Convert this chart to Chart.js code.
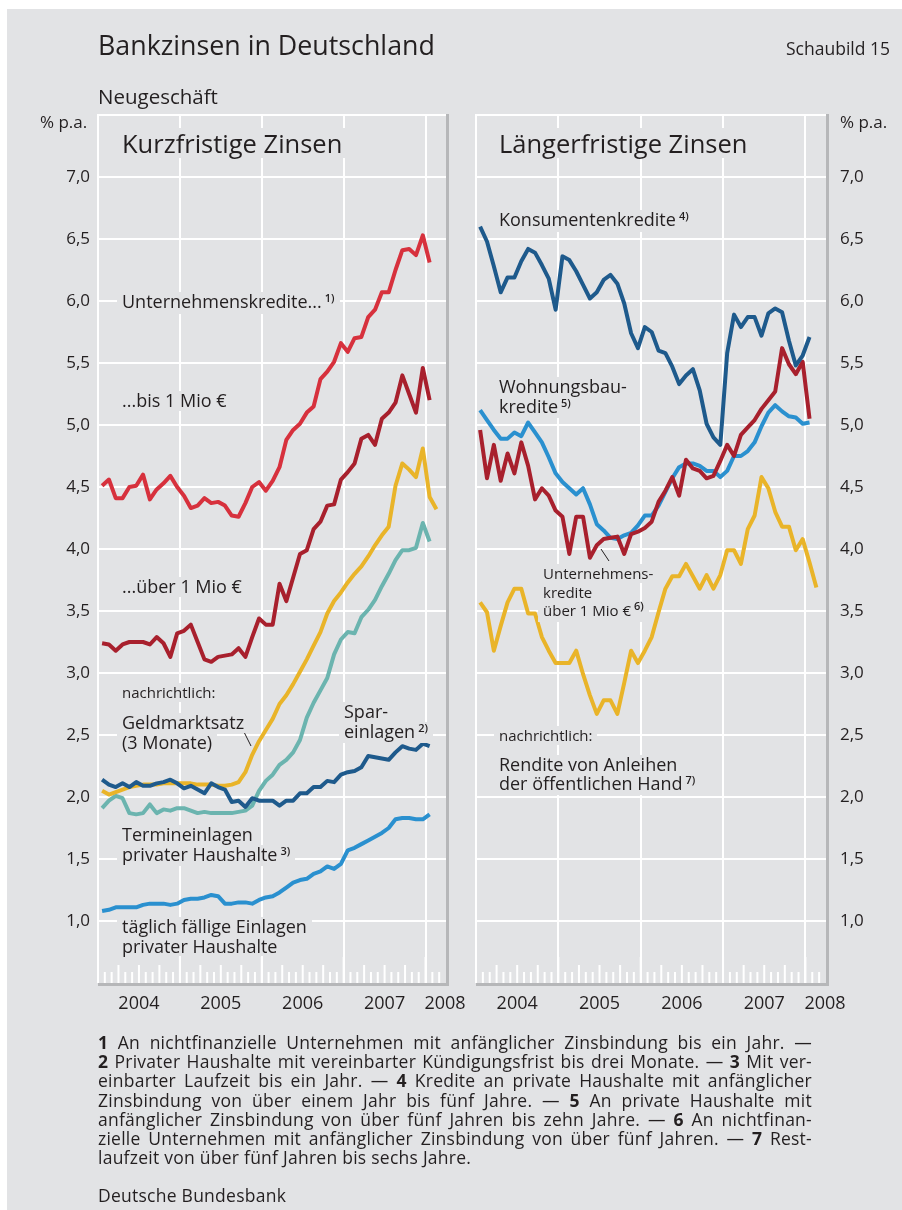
<!DOCTYPE html>
<html lang="de">
<head>
<meta charset="utf-8">
<title>Bankzinsen in Deutschland</title>
<script src="https://cdn.jsdelivr.net/npm/chart.js@4.4.1/dist/chart.umd.min.js"></script>
<style>
  html, body { margin: 0; padding: 0; background: #fff; }
  body { width: 902px; height: 1210px; position: relative; overflow: hidden;
         font-family: "Open Sans", sans-serif; color: #231f20; }
  #page { position: absolute; left: 7px; top: 9px; right: 0; bottom: 0; background: #e2e3e5; }
  canvas { position: absolute; }
  .t { position: absolute; white-space: nowrap; }
  .lab { position: absolute; font-size: 18px; line-height: 19.5px; white-space: nowrap; }
  .lab.small { font-size: 15px; line-height: 18.5px; }
  .lab span { display: table; background: #e2e3e5; padding: 0 5px; margin-left: -5px; }
  sup { font-size: 11px; font-weight: 600; vertical-align: baseline; position: relative; top: -6px; margin-left: 3px; }
  .fn { position: absolute; left: 98px; width: 714px; font-family: "Open Sans", sans-serif;
        font-size: 17.5px; letter-spacing: 0.25px; line-height: 19.2px; }
  .fn div { text-align: justify; text-align-last: justify; height: 19.2px; }
  .fn div.last { text-align-last: left; }
  svg { position: absolute; left: 0; top: 0; }
</style>
</head>
<body>
<div id="page"></div>
<canvas id="kurz" width="470" height="928" style="left:0; top:95px;"></canvas>
<canvas id="lang" width="432" height="928" style="left:470px; top:95px;"></canvas>

<svg width="902" height="1210">
  <line x1="243" y1="730" x2="251" y2="746" stroke="#231f20" stroke-width="1"/>
  <line x1="601" y1="549" x2="609" y2="561" stroke="#231f20" stroke-width="1"/>
</svg>

<div class="t" style="left:98px; top:30px; font-size:26.8px; line-height:30px;">Bankzinsen in Deutschland</div>
<div class="t" style="right:12px; top:37px; font-size:17.5px; line-height:22px;">Schaubild 15</div>
<div class="t" style="left:98px; top:84px; font-size:20.5px; line-height:24px;">Neugeschäft</div>
<div class="t" style="left:40px; top:112px; font-size:17px; line-height:20px;">% p.a.</div>
<div class="t" style="left:840px; top:112px; font-size:17px; line-height:20px;">% p.a.</div>

<div class="lab" style="left:122px; top:128px; font-size:25.5px; line-height:30px;"><span style="padding:0 7px; margin-left:-7px;">Kurzfristige Zinsen</span></div>
<div class="lab" style="left:499px; top:128px; font-size:25.5px; line-height:30px;"><span style="padding:0 7px; margin-left:-7px;">Längerfristige Zinsen</span></div>

<div class="lab" style="left:122px; top:292px;"><span>Unternehmenskredite...<sup>1)</sup></span></div>
<div class="lab" style="left:122px; top:391px;"><span>...bis 1 Mio €</span></div>
<div class="lab" style="left:122px; top:577px;"><span>...über 1 Mio €</span></div>
<div class="lab small" style="left:122px; top:683px;"><span>nachrichtlich:</span></div>
<div class="lab" style="left:122px; top:713px;"><span>Geldmarktsatz</span><span>(3 Monate)</span></div>
<div class="lab" style="left:344px; top:702px;"><span>Spar-</span><span>einlagen<sup>2)</sup></span></div>
<div class="lab" style="left:122px; top:825px;"><span>Termineinlagen</span><span>privater Haushalte<sup>3)</sup></span></div>
<div class="lab" style="left:122px; top:917px;"><span>täglich fällige Einlagen</span><span>privater Haushalte</span></div>

<div class="lab" style="left:499px; top:210px;"><span>Konsumentenkredite<sup>4)</sup></span></div>
<div class="lab" style="left:499px; top:377px;"><span>Wohnungsbau-</span><span>kredite<sup>5)</sup></span></div>
<div class="lab small" style="left:543px; top:564px;"><span>Unternehmens-</span><span>kredite</span><span>über 1 Mio €<sup>6)</sup></span></div>
<div class="lab small" style="left:499px; top:726px;"><span>nachrichtlich:</span></div>
<div class="lab" style="left:499px; top:755px; line-height:18.5px;"><span>Rendite von Anleihen</span><span>der öffentlichen Hand<sup>7)</sup></span></div>

<div class="fn" style="top:1033px;">
  <div><b>1</b> An nichtfinanzielle Unternehmen mit anfänglicher Zinsbindung bis ein Jahr. —</div>
  <div><b>2</b> Privater Haushalte mit vereinbarter Kündigungsfrist bis drei Monate. — <b>3</b> Mit ver-</div>
  <div>einbarter Laufzeit bis ein Jahr. — <b>4</b> Kredite an private Haushalte mit anfänglicher</div>
  <div>Zinsbindung von über einem Jahr bis fünf Jahre. — <b>5</b> An private Haushalte mit</div>
  <div>anfänglicher Zinsbindung von über fünf Jahren bis zehn Jahre. — <b>6</b> An nichtfinan-</div>
  <div>zielle Unternehmen mit anfänglicher Zinsbindung von über fünf Jahren. — <b>7</b> Rest-</div>
  <div class="last">laufzeit von über fünf Jahren bis sechs Jahre.</div>
</div>
<div class="fn" style="top:1186px;"><div class="last">Deutsche Bundesbank</div></div>

<script>
// Monatswerte Jan 2004 bis Jan/Feb 2008 (Index 0 = Jan 2004)
const months = [];
for (let y = 2004; y <= 2008; y++) {
    for (let m = 1; m <= 12 && months.length < 50; m++) {
        months.push(('0' + m).substr(-2) + '/' + y);
    }
}
const yearLabels = ['2004', '2005', '2006', '2007', '2008'];

// Kurzfristige Zinsen
const kurzBis1Mio = [4.51, 4.56, 4.41, 4.41, 4.50, 4.51, 4.60, 4.40, 4.48, 4.53,
    4.59, 4.50, 4.43, 4.33, 4.35, 4.41, 4.37, 4.38, 4.35, 4.27,
    4.26, 4.37, 4.50, 4.54, 4.47, 4.55, 4.66, 4.88, 4.96, 5.01,
    5.10, 5.15, 5.37, 5.43, 5.51, 5.66, 5.59, 5.70, 5.71, 5.87,
    5.93, 6.07, 6.07, 6.25, 6.41, 6.42, 6.37, 6.53, 6.31];
const kurzUeber1Mio = [3.24, 3.23, 3.18, 3.23, 3.25, 3.25, 3.25, 3.23, 3.29, 3.24,
    3.13, 3.32, 3.34, 3.39, 3.25, 3.11, 3.09, 3.13, 3.14, 3.15,
    3.20, 3.13, 3.29, 3.44, 3.39, 3.39, 3.72, 3.58, 3.77, 3.96,
    3.99, 4.16, 4.22, 4.35, 4.36, 4.56, 4.62, 4.69, 4.89, 4.92,
    4.84, 5.05, 5.10, 5.18, 5.40, 5.25, 5.10, 5.46, 5.20];
const geldmarktsatz = [2.05, 2.02, 2.04, 2.06, 2.08, 2.09, 2.10, 2.10, 2.10, 2.11,
    2.11, 2.11, 2.11, 2.11, 2.10, 2.10, 2.10, 2.09, 2.09, 2.10,
    2.12, 2.20, 2.34, 2.45, 2.54, 2.63, 2.75, 2.82, 2.91, 3.01,
    3.11, 3.22, 3.33, 3.48, 3.58, 3.65, 3.73, 3.80, 3.86, 3.94,
    4.03, 4.11, 4.18, 4.51, 4.69, 4.64, 4.58, 4.81, 4.42, 4.32];
const termineinlagen = [1.91, 1.97, 2.01, 1.99, 1.87, 1.86, 1.87, 1.94, 1.87, 1.90,
    1.89, 1.91, 1.91, 1.89, 1.87, 1.88, 1.87, 1.87, 1.87, 1.87,
    1.88, 1.89, 1.93, 2.05, 2.13, 2.18, 2.26, 2.30, 2.36, 2.46,
    2.64, 2.76, 2.86, 2.96, 3.15, 3.27, 3.33, 3.32, 3.45, 3.51,
    3.59, 3.70, 3.80, 3.91, 3.99, 3.99, 4.01, 4.21, 4.06];
const spareinlagen = [2.14, 2.10, 2.08, 2.11, 2.08, 2.12, 2.09, 2.09, 2.11, 2.12,
    2.14, 2.11, 2.07, 2.09, 2.06, 2.03, 2.11, 2.08, 2.06, 1.96,
    1.97, 1.92, 1.99, 1.97, 1.97, 1.97, 1.93, 1.97, 1.97, 2.03,
    2.03, 2.08, 2.08, 2.13, 2.12, 2.18, 2.20, 2.21, 2.24, 2.33,
    2.32, 2.31, 2.30, 2.36, 2.41, 2.39, 2.38, 2.43, 2.41];
const taeglichFaellig = [1.08, 1.09, 1.11, 1.11, 1.11, 1.11, 1.13, 1.14, 1.14, 1.14,
    1.13, 1.14, 1.17, 1.18, 1.18, 1.19, 1.21, 1.20, 1.14, 1.14,
    1.15, 1.15, 1.14, 1.17, 1.19, 1.20, 1.23, 1.27, 1.31, 1.33,
    1.34, 1.38, 1.40, 1.44, 1.42, 1.46, 1.57, 1.59, 1.62, 1.65,
    1.68, 1.71, 1.75, 1.82, 1.83, 1.83, 1.82, 1.82, 1.86];

// Längerfristige Zinsen
const konsumentenkredite = [6.60, 6.48, 6.28, 6.07, 6.19, 6.19, 6.32, 6.42, 6.39, 6.29,
    6.18, 5.93, 6.36, 6.33, 6.24, 6.13, 6.02, 6.07, 6.17, 6.21,
    6.14, 5.98, 5.74, 5.62, 5.79, 5.75, 5.60, 5.58, 5.47, 5.33,
    5.40, 5.45, 5.28, 5.01, 4.90, 4.84, 5.58, 5.89, 5.79, 5.87,
    5.87, 5.72, 5.90, 5.94, 5.91, 5.68, 5.48, 5.56, 5.71];
const wohnungsbaukredite = [5.12, 5.04, 4.96, 4.89, 4.89, 4.94, 4.91, 5.02, 4.94, 4.86,
    4.74, 4.61, 4.54, 4.49, 4.44, 4.49, 4.36, 4.20, 4.15, 4.09,
    4.08, 4.11, 4.13, 4.19, 4.27, 4.27, 4.35, 4.46, 4.57, 4.66,
    4.69, 4.69, 4.67, 4.63, 4.63, 4.58, 4.63, 4.75, 4.75, 4.79,
    4.86, 4.99, 5.10, 5.16, 5.11, 5.07, 5.06, 5.01, 5.02];
const langUeber1Mio = [4.96, 4.57, 4.84, 4.55, 4.77, 4.61, 4.86, 4.67, 4.40, 4.49,
    4.43, 4.31, 4.26, 3.96, 4.26, 4.26, 3.93, 4.03, 4.08, 4.09,
    4.10, 3.96, 4.12, 4.14, 4.17, 4.22, 4.38, 4.47, 4.58, 4.43,
    4.72, 4.65, 4.63, 4.57, 4.59, 4.71, 4.84, 4.75, 4.92, 4.98,
    5.04, 5.13, 5.20, 5.27, 5.62, 5.49, 5.41, 5.51, 5.05];
const rendite = [3.57, 3.49, 3.18, 3.38, 3.57, 3.68, 3.68, 3.48, 3.48, 3.29,
    3.18, 3.08, 3.08, 3.08, 3.18, 2.99, 2.82, 2.67, 2.78, 2.78,
    2.67, 2.92, 3.18, 3.08, 3.18, 3.29, 3.49, 3.68, 3.78, 3.78,
    3.88, 3.78, 3.68, 3.79, 3.68, 3.79, 3.99, 3.99, 3.88, 4.16,
    4.27, 4.58, 4.49, 4.30, 4.18, 4.18, 3.99, 4.08, 3.89, 3.69];

const colors = {
    red: '#d7313d',
    darkRed: '#a8202d',
    yellow: '#e9b429',
    teal: '#6bb4af',
    darkBlue: '#1e5a8c',
    blue: '#2a90cf'
};
const textColor = '#231f20';
const fontFamily = '"Open Sans", sans-serif';

function toPoints(values) {
    return values.map((v, i) => ({x: i, y: v}));
}

function line(label, values, color) {
    return {
        label: label,
        data: toPoints(values),
        borderColor: color,
        backgroundColor: color,
        borderWidth: 4,
        borderJoinStyle: 'round',
        pointRadius: 0,
        tension: 0,
        fill: false
    };
}

// small monthly/quarterly marks inside the plot and the panel frame
const framePlugin = {
    id: 'frame',
    beforeDatasetsDraw(chart) {
        const ctx = chart.ctx;
        const a = chart.chartArea;
        const x = chart.scales.x;
        ctx.save();
        ctx.fillStyle = '#ffffff';
        x.ticks.forEach(t => {
            const k = Math.round(t.value + 0.6);
            const h = k % 12 === 0 ? 26 : (k % 3 === 0 ? 18 : 11);
            const px = x.getPixelForValue(t.value);
            ctx.fillRect(px - 1, a.bottom - h, 2, h);
        });
        ctx.fillRect(a.left - 1, a.top - 1, 2, a.bottom - a.top + 1);
        ctx.fillStyle = '#b6b7b9';
        ctx.fillRect(a.right, a.top - 1, 3, a.bottom - a.top + 4);
        ctx.fillRect(a.left, a.bottom, a.right - a.left + 3, 3);
        ctx.restore();
    }
};

function makePanel(id, side, datasets) {
    const ctx = document.getElementById(id).getContext('2d');
    return new Chart(ctx, {
        type: 'line',
        data: {labels: months, datasets: datasets},
        plugins: [framePlugin],
        options: {
            responsive: false,
            devicePixelRatio: 1,
            animation: false,
            layout: {
                padding: side === 'left'
                    ? {left: 0, right: 24, top: 20, bottom: 10}
                    : {left: 6, right: 0, top: 20, bottom: 10}
            },
            plugins: {
                legend: {display: false},
                tooltip: {enabled: false}
            },
            scales: {
                x: {
                    type: 'linear',
                    min: -0.6,
                    max: 50.4,
                    afterBuildTicks: s => {
                        s.ticks = [];
                        for (let k = 1; k <= 50; k++) s.ticks.push({value: k - 0.6});
                    },
                    ticks: {display: false},
                    grid: {
                        drawTicks: false,
                        lineWidth: 2,
                        color: c => (Math.round(c.tick.value + 0.6) % 12 === 0 ? '#ffffff' : 'rgba(0,0,0,0)')
                    },
                    border: {display: false},
                    afterFit: s => { s.height = 0; }
                },
                x2: {
                    type: 'linear',
                    position: 'bottom',
                    min: -0.6,
                    max: 50.4,
                    afterBuildTicks: s => {
                        s.ticks = [5.4, 17.4, 29.4, 41.4, 50.25].map(v => ({value: v}));
                    },
                    ticks: {
                        autoSkip: false,
                        maxRotation: 0,
                        padding: 2,
                        color: textColor,
                        font: {family: fontFamily, size: 18},
                        callback: (v, i) => yearLabels[i]
                    },
                    grid: {display: false},
                    border: {display: false},
                    afterFit: s => { s.height = 30; }
                },
                y: {
                    position: side,
                    min: 0.5,
                    max: 7.5,
                    afterBuildTicks: s => {
                        s.ticks = [];
                        for (let k = 1; k <= 15; k++) s.ticks.push({value: k * 0.5});
                    },
                    ticks: {
                        padding: 8,
                        color: textColor,
                        font: {family: fontFamily, size: 17},
                        callback: v => (v < 0.9 || v > 7.1) ? '' : v.toFixed(1).replace('.', ',')
                    },
                    grid: {
                        drawTicks: side === 'right',
                        tickLength: 6,
                        tickColor: 'rgba(0,0,0,0)',
                        lineWidth: 2,
                        color: c => (c.tick.value < 0.75 ? 'rgba(0,0,0,0)' : '#ffffff')
                    },
                    border: {display: false},
                    afterFit: s => { s.width = side === 'left' ? 98 : 76; }
                }
            }
        }
    });
}

makePanel('kurz', 'left', [
    line('Unternehmenskredite bis 1 Mio €', kurzBis1Mio, colors.red),
    line('Unternehmenskredite über 1 Mio €', kurzUeber1Mio, colors.darkRed),
    line('Spareinlagen', spareinlagen, colors.darkBlue),
    line('Geldmarktsatz (3 Monate)', geldmarktsatz, colors.yellow),
    line('Termineinlagen privater Haushalte', termineinlagen, colors.teal),
    line('täglich fällige Einlagen privater Haushalte', taeglichFaellig, colors.blue)
]);

makePanel('lang', 'right', [
    line('Konsumentenkredite', konsumentenkredite, colors.darkBlue),
    line('Unternehmenskredite über 1 Mio €', langUeber1Mio, colors.darkRed),
    line('Wohnungsbaukredite', wohnungsbaukredite, colors.blue),
    line('Rendite von Anleihen der öffentlichen Hand', rendite, colors.yellow)
]);
</script>
</body>
</html>
